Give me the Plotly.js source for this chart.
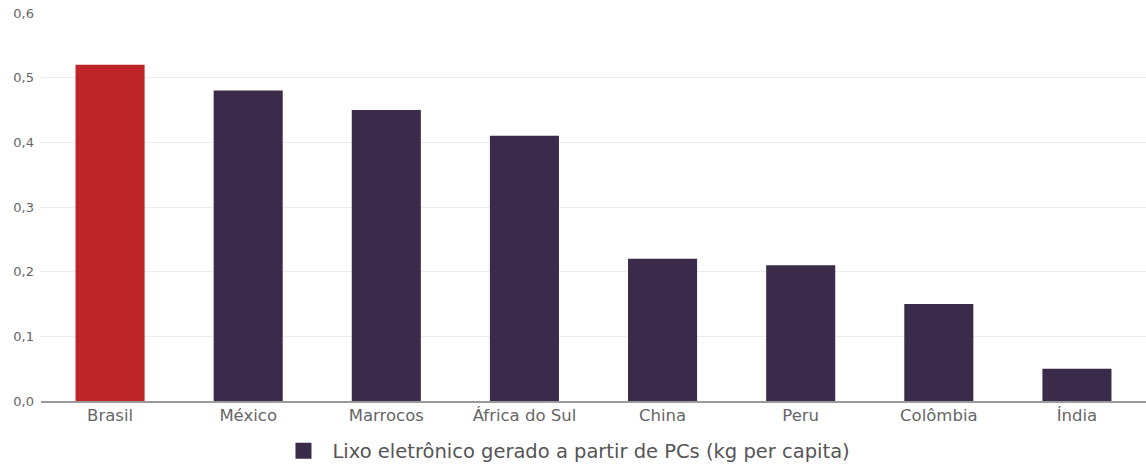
<!DOCTYPE html>
<html>
<head>
<meta charset="utf-8">
<script src="https://cdn.plot.ly/plotly-3.0.1.min.js"></script>
<style>
  html, body { margin: 0; padding: 0; background: #fff; }
  #chart { width: 1146px; height: 465px; }
</style>
</head>
<body>
<div id="chart"></div>
<script>
// Lixo eletrônico gerado a partir de PCs, kg por habitante
const paises = ['Brasil', 'México', 'Marrocos', 'África do Sul', 'China', 'Peru', 'Colômbia', 'Índia'];
const kgPerCapita = [0.52, 0.48, 0.45, 0.41, 0.22, 0.21, 0.15, 0.05];
const nomeSerie = 'Lixo eletrônico gerado a partir de PCs (kg per capita)';
const yTicks = [0, 0.1, 0.2, 0.3, 0.4, 0.5, 0.6];

const corDestaque = '#BE2528';
const corBarras = '#3B2B4B';
const cores = paises.map(p => p === 'Brasil' ? corDestaque : corBarras);

const fonte = 'DejaVu Sans, Verdana, sans-serif';

const traces = [
  {
    type: 'bar',
    x: paises,
    y: kgPerCapita,
    marker: { color: cores, line: { width: 0 } },
    showlegend: false,
    hoverinfo: 'x+y'
  },
  {
    // entrada da legenda: quadrado na cor da série
    type: 'scatter',
    mode: 'markers',
    x: [null],
    y: [null],
    name: nomeSerie,
    marker: { color: corBarras, symbol: 'square', size: 18 },
    showlegend: true
  }
];

const layout = {
  width: 1146,
  height: 465,
  margin: { l: 41, r: 0, t: 13, b: 64 },
  paper_bgcolor: '#ffffff',
  plot_bgcolor: '#ffffff',
  separators: ',.',
  bargap: 0.5,
  font: { family: fonte, color: '#666666', size: 12 },
  xaxis: {
    type: 'category',
    categoryorder: 'array',
    categoryarray: paises,
    showgrid: false,
    zeroline: false,
    showline: true,
    linecolor: '#9a9a9a',
    linewidth: 2,
    ticks: '',
    tickfont: { family: fonte, size: 16.5, color: '#666666' },
    ticklabelstandoff: -2
  },
  yaxis: {
    range: [0, 0.6],
    tickvals: yTicks,
    tickformat: '.1f',
    showgrid: true,
    gridcolor: '#ececec',
    gridwidth: 1,
    zeroline: false,
    showline: false,
    ticks: '',
    tickfont: { family: fonte, size: 13, color: '#666666' },
    ticklabelstandoff: 6
  },
  legend: {
    orientation: 'h',
    xref: 'container',
    x: 0.493,
    xanchor: 'center',
    yref: 'container',
    y: 0.03,
    yanchor: 'middle',
    itemwidth: 48,
    font: { family: fonte, size: 19.5, color: '#555555' },
    itemclick: false
  }
};

Plotly.newPlot('chart', traces, layout, { displayModeBar: false, staticPlot: true });
</script>
</body>
</html>
